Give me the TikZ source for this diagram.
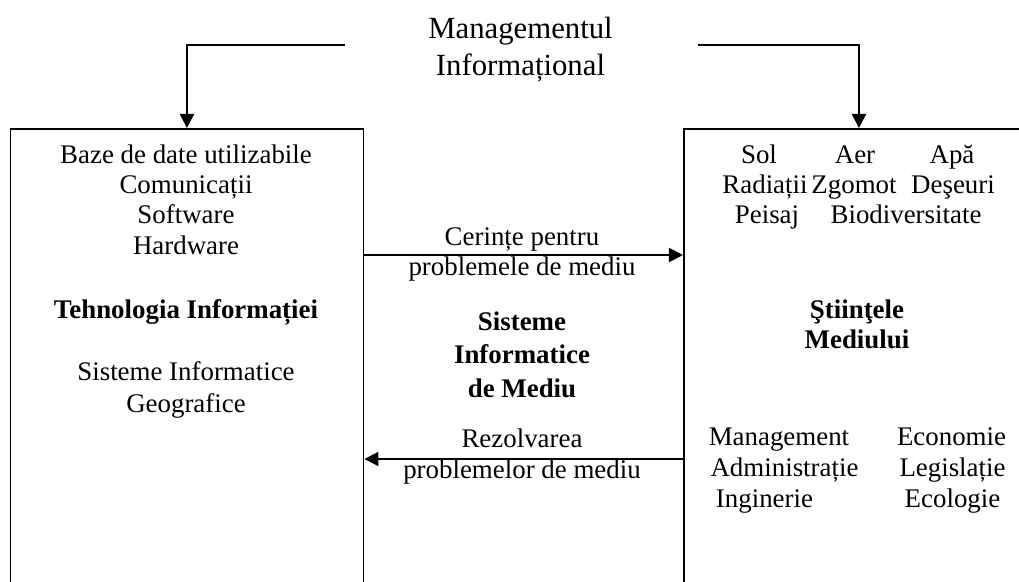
\documentclass[tikz,border=0pt]{standalone}
\usepackage{fontspec}
\setmainfont{Liberation Serif}
\usepackage{tikz}
\usetikzlibrary{arrows.meta}

\begin{document}
\begin{tikzpicture}[line width=1.1pt,
   box/.style={draw=black, inner sep=0pt, anchor=north west},
   arr/.style={-{Triangle[length=8pt,width=8pt]}},
   txt/.style={font=\fontsize{15.3}{18}\selectfont, anchor=base, inner sep=0pt},
   hdr/.style={txt, font=\fontsize{15.3}{18}\selectfont\bfseries}]
   \useasboundingbox (0,0) rectangle (20.38,11.62);
   \clip (0,0) rectangle (20.38,11.62);

   \node[box, minimum width=7.06cm, minimum height=10cm] (ti) at (0.19,9.06) {};
   \node[box, minimum width=7cm, minimum height=10cm] (sm) at (13.66,9.06) {};

   \node[align=center, inner sep=0pt, font=\fontsize{17.5}{21}\selectfont] (mi) at (10.41,10.62)
      {Managementul\\Informațional};
   \coordinate (ml) at (6.9,10.72);
   \coordinate (mr) at (13.96,10.72);
   \draw[arr] (ml) -| (ti.north);
   \draw[arr] (mr) -| (sm.north);

   % left box
   \node[txt] (baze) at (3.72,8.36) {Baze de date utilizabile};
   \node[txt] (com) at (3.72,7.76) {Comunicații};
   \node[txt] (soft) at (3.72,7.16) {Software};
   \node[txt] (hard) at (3.72,6.54) {Hardware};
   \node[hdr] (teh) at (3.72,5.26) {Tehnologia Informației};
   \node[txt] (sig1) at (3.72,4.02) {Sisteme Informatice};
   \node[txt] (sig2) at (3.72,3.38) {Geografice};

   % middle
   \coordinate (ya) at (0,6.52);
   \coordinate (yb) at (0,2.44);
   \draw[arr] (ti.east |- ya) -- (sm.west |- ya);
   \draw[arr] (sm.west |- yb) -- (ti.east |- yb);
   \node[txt] (cer1) at (10.44,6.72) {Cerințe pentru};
   \node[txt] (cer2) at (10.44,6.12) {problemele de mediu};
   \node[hdr] (sim1) at (10.44,5.02) {Sisteme};
   \node[hdr] (sim2) at (10.44,4.36) {Informatice};
   \node[hdr] (sim3) at (10.44,3.68) {de Mediu};
   \node[txt] (rez1) at (10.44,2.68) {Rezolvarea};
   \node[txt] (rez2) at (10.44,2.06) {problemelor de mediu};

   % right box
   \node[txt] (sol) at (15.18,8.36) {Sol};
   \node[txt] (aer) at (17.10,8.36) {Aer};
   \node[txt] (apa) at (19.04,8.36) {Apă};
   \node[txt] (rad) at (15.30,7.76) {Radiații};
   \node[txt] (zgo) at (17.08,7.76) {Zgomot};
   \node[txt] (des) at (19.06,7.76) {Deşeuri};
   \node[txt] (pei) at (15.34,7.16) {Peisaj};
   \node[txt] (bio) at (18.12,7.16) {Biodiversitate};
   \node[hdr] (sti1) at (17.14,5.26) {Ştiinţele};
   \node[hdr] (sti2) at (17.14,4.66) {Mediului};
   \node[txt] (man) at (15.58,2.72) {Management};
   \node[txt] (adm) at (15.69,2.09) {Administrație};
   \node[txt] (ing) at (15.29,1.47) {Inginerie};
   \node[txt] (eco) at (19.03,2.72) {Economie};
   \node[txt] (leg) at (19.05,2.09) {Legislație};
   \node[txt] (ecl) at (19.05,1.47) {Ecologie};
\end{tikzpicture}
\end{document}
